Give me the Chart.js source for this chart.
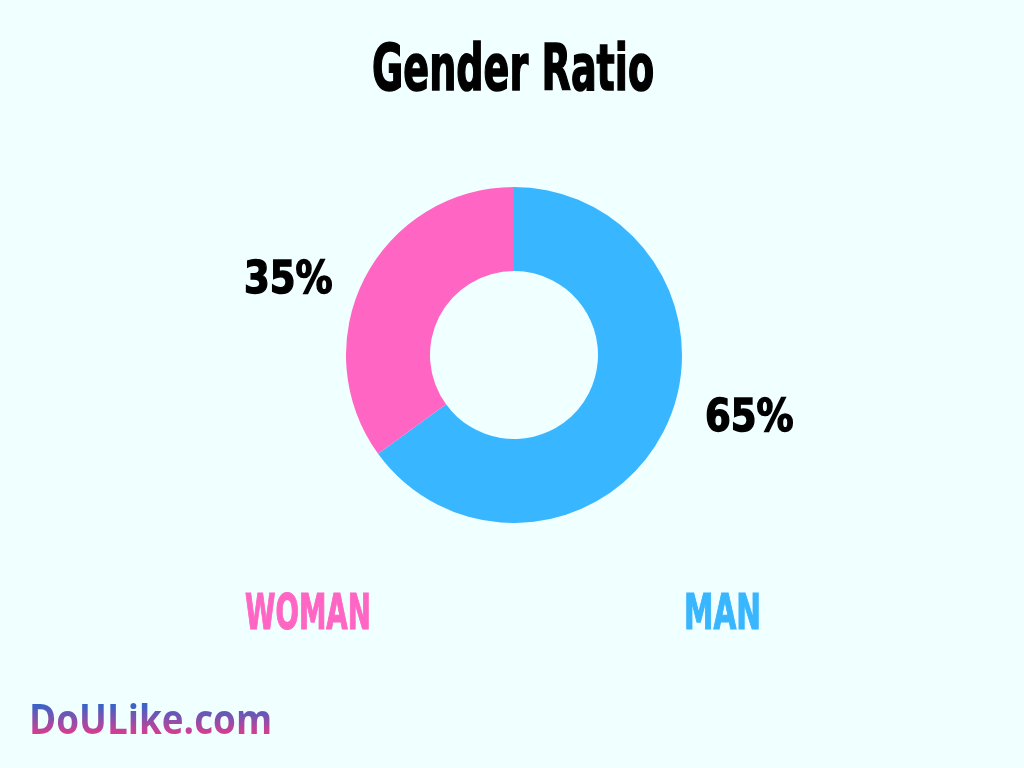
<!DOCTYPE html>
<html>
<head>
<meta charset="utf-8">
<script src="https://cdn.jsdelivr.net/npm/chart.js@4.4.0/dist/chart.umd.min.js"></script>
<style>
  html, body { margin: 0; padding: 0; width: 1024px; height: 768px; background: #F0FFFF; overflow: hidden; }
  .t { position: absolute; white-space: nowrap; line-height: normal; transform-origin: 0 0; margin: 0; }
  #chartBox { position: absolute; left: 346px; top: 187px; width: 336px; height: 336px; }
</style>
</head>
<body>
<div id="chartBox"><canvas id="c" width="336" height="336"></canvas></div>

<div class="t" id="title">Gender Ratio</div>
<div class="t" id="pctWoman"></div>
<div class="t" id="pctMan"></div>
<div class="t" id="lblWoman"></div>
<div class="t" id="lblMan"></div>
<div class="t" id="logo">DoULike.com</div>

<script>
// ---- data ----
const categories = ['MAN', 'WOMAN'];
const values = [65, 35];
const sliceColors = ['#38B6FF', '#FF66C4'];

const condFont = '"Liberation Sans Narrow", "DejaVu Sans Condensed", sans-serif';

// fit text so its cap box matches the target box (sw = stroke width to thicken glyphs)
function fit(el, text, font, weight, box, color, sw) {
  sw = sw || 0;
  if (text !== null) el.textContent = text;
  const b = { l: box.l + sw / 2, r: box.r - sw / 2, t: box.t + sw / 2, b: box.b - sw / 2 };
  const cv = document.createElement('canvas').getContext('2d');
  const base = 100;
  cv.font = weight + ' ' + base + 'px ' + font;
  const capRatio = cv.measureText('H').actualBoundingBoxAscent / base;
  const fs = (b.b - b.t) / capRatio;
  cv.font = weight + ' ' + fs + 'px ' + font;
  const m = cv.measureText(el.textContent);
  const inkW = m.actualBoundingBoxLeft + m.actualBoundingBoxRight;
  const sx = (b.r - b.l) / inkW;
  el.style.fontFamily = font;
  el.style.fontWeight = weight;
  el.style.fontSize = fs + 'px';
  if (color) {
    el.style.color = color;
    if (sw) el.style.webkitTextStroke = sw + 'px ' + color;
  }
  const fAsc = m.fontBoundingBoxAscent;
  const fDesc = m.fontBoundingBoxDescent;
  el.style.left = '0px'; el.style.top = '0px';
  const h = el.getBoundingClientRect().height;
  const lead = (h - (fAsc + fDesc)) / 2;
  const baselineFromTop = lead + fAsc;
  const capAsc = capRatio * fs;
  el.style.left = (b.l + m.actualBoundingBoxLeft * sx) + 'px';
  el.style.top = (b.t - (baselineFromTop - capAsc)) + 'px';
  el.style.transform = 'scaleX(' + sx + ')';
  return { h: h, capTop: baselineFromTop - capAsc, baseline: baselineFromTop };
}

fit(document.getElementById('title'), null, condFont, 'bold', {l: 373, r: 654, t: 42, b: 91}, '#000', 1.6);
fit(document.getElementById('pctWoman'), values[1] + '%', condFont, 'bold', {l: 245, r: 332, t: 260, b: 294}, '#000', 1.4);
fit(document.getElementById('pctMan'), values[0] + '%', condFont, 'bold', {l: 706, r: 793, t: 398, b: 432}, '#000', 1.4);
fit(document.getElementById('lblWoman'), categories[1], condFont, 'bold', {l: 245, r: 369, t: 592, b: 630}, sliceColors[1], 1.2);
fit(document.getElementById('lblMan'), categories[0], condFont, 'bold', {l: 686, r: 759, t: 592, b: 630}, sliceColors[0], 1.2);

const logo = document.getElementById('logo');
const lm = fit(logo, null, '"Open Sans", sans-serif', 'bold', {l: 32, r: 270, t: 705, b: 734}, null, 0);
const p1 = (lm.capTop / lm.h * 100).toFixed(1), p2 = (lm.baseline / lm.h * 100).toFixed(1);
logo.style.background = 'linear-gradient(to bottom, #3A63C8 ' + p1 + '%, #DA3C8E ' + p2 + '%)';
logo.style.webkitBackgroundClip = 'text';
logo.style.backgroundClip = 'text';
logo.style.color = 'transparent';

new Chart(document.getElementById('c'), {
  type: 'doughnut',
  data: {
    labels: categories,
    datasets: [{
      data: values,
      backgroundColor: sliceColors,
      borderWidth: 0,
      hoverOffset: 0
    }]
  },
  options: {
    responsive: false,
    maintainAspectRatio: false,
    animation: false,
    cutout: '50%',
    layout: { padding: 0 },
    plugins: { legend: { display: false }, tooltip: { enabled: false } }
  }
});
</script>
</body>
</html>
